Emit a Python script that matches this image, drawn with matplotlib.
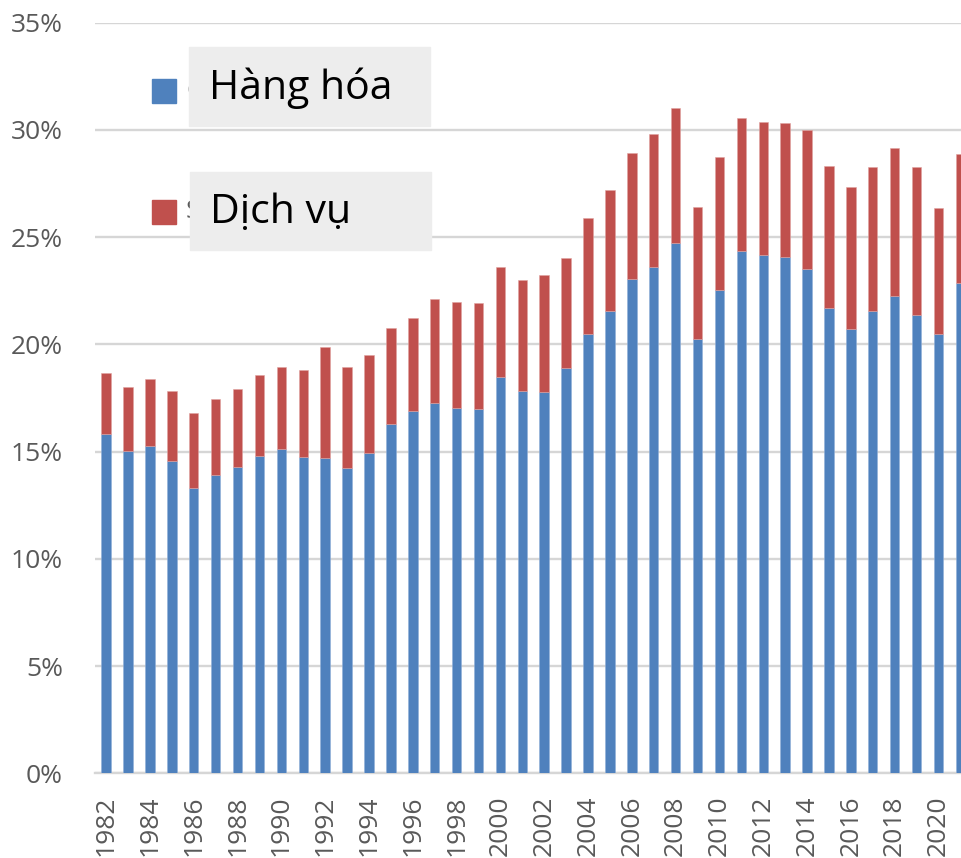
import numpy as np
import matplotlib
matplotlib.use("Agg")
import matplotlib.pyplot as plt
from matplotlib.patches import Rectangle

plt.rcParams['font.family'] = ['Open Sans', 'DejaVu Sans']

# dữ liệu (% GDP)
years = list(range(1982, 2022))
goods = [15.83, 15.02, 15.24, 14.54, 13.28, 13.92, 14.26, 14.78, 15.12, 14.75,
         14.71, 14.22, 14.94, 16.30, 16.90, 17.27, 17.02, 16.96, 18.48, 17.81,
         17.78, 18.90, 20.46, 21.57, 23.02, 23.61, 24.74, 20.25, 22.51, 24.36,
         24.17, 24.08, 23.49, 21.68, 20.69, 21.56, 22.26, 21.38, 20.46, 22.86]
services = [2.84, 3.00, 3.13, 3.26, 3.51, 3.54, 3.67, 3.81, 3.81, 4.04,
            5.14, 4.70, 4.55, 4.44, 4.31, 4.84, 4.93, 4.97, 5.11, 5.18,
            5.47, 5.11, 5.41, 5.60, 5.88, 6.21, 6.27, 6.16, 6.24, 6.19,
            6.18, 6.22, 6.49, 6.63, 6.63, 6.72, 6.91, 6.90, 5.91, 6.03]
yticks = [0, 5, 10, 15, 20, 25, 30, 35]
labels = ["Hàng hóa", "Dịch vụ"]

W, H = 961, 858
blue = "#4F81BD"
red = "#C0504D"
grey_txt = "#595959"

fig = plt.figure(figsize=(W / 100, H / 100), dpi=100)
ax = fig.add_axes([95 / W, 84.7 / H, (961 - 95) / W, (773.3 - 22.5) / H])

x = np.array(years)
ax.bar(x, goods, width=0.43, color=blue, edgecolor="#8fb0d9", linewidth=0.4, zorder=3)
ax.bar(x, services, width=0.43, bottom=goods, color=red, edgecolor="#e0a3a1",
       linewidth=0.4, zorder=3)

ax.set_xlim(1981.49, 2021.03)
ax.set_ylim(0, 35)
ax.set_yticks(yticks)
ax.set_yticklabels([f"{v}%" for v in yticks])
ax.set_xticks(years[::2])
ax.set_xticklabels([str(y) for y in years[::2]], rotation=90)
ax.tick_params(axis="y", length=0, pad=23, labelsize=19, labelcolor=grey_txt)
ax.tick_params(axis="x", length=0, pad=16, labelsize=19, labelcolor=grey_txt)
ax.grid(axis="y", color="#d6d6d6", linewidth=1.7, zorder=0)
for s in ["top", "right", "left"]:
    ax.spines[s].set_visible(False)
ax.spines["bottom"].set_color("#d6d6d6")
ax.spines["bottom"].set_linewidth(1.7)


def fx(px):
    return px / W


def fy(py):
    return 1 - py / H


# chú giải
for (sy, col, ch) in [(79, blue, "G"), (200, red, "S")]:
    fig.add_artist(Rectangle((fx(152), fy(sy + 24)), 24 / W, 24 / H, color=col,
                             transform=fig.transFigure, zorder=5))
    fig.text(fx(186), fy(sy + 12), ch, fontsize=19, color=grey_txt, va="center", zorder=5)

for (bx, by, bw, bh, t) in [(189, 47, 241, 79, labels[0]), (190, 172, 241, 78, labels[1])]:
    fig.add_artist(Rectangle((fx(bx), fy(by + bh)), bw / W, bh / H, color="#ededed",
                             transform=fig.transFigure, zorder=6))
    fig.text(fx(bx + 20), fy(by + bh / 2 + 2), t, fontsize=29.5, color="black",
             va="center", zorder=7)

fig.savefig("out.png", dpi=100)
